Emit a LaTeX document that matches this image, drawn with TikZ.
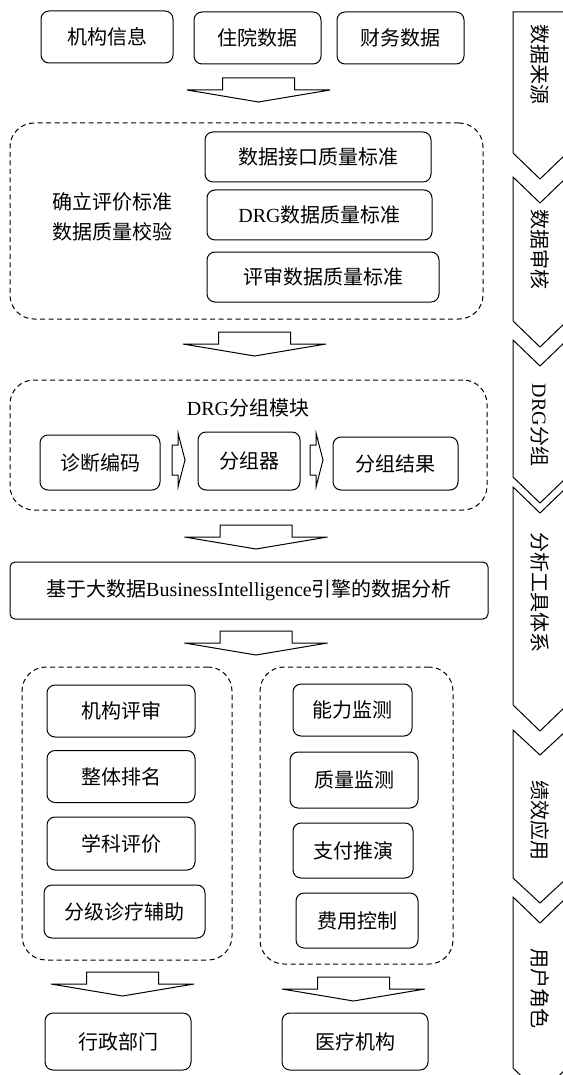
\documentclass[tikz,border=0pt]{standalone}
\usepackage{fontspec}
\setmainfont{Noto Sans CJK SC}
\newfontfamily\lat{Liberation Serif}
\begin{document}
\begin{tikzpicture}[x=1pt,y=-1pt,
  every node/.style={font=\fontsize{20}{24}\selectfont},
  box/.style={draw,line width=1pt,rounded corners=8pt,inner sep=0pt},
  dbox/.style={draw,line width=1pt,rounded corners=24pt,dash pattern=on 5pt off 3.5pt,inner sep=0pt},
  bigarrow/.pic={\draw[line width=1pt,line join=miter] (-36,0) -- (36,0) -- (36,12) -- (71.5,12) -- (0,24) -- (-71.5,12) -- (-36,12) -- cycle;},
  smallarrow/.pic={\draw[line width=1pt] (0,-15) -- (6,-15) -- (6,-27) -- (13,0) -- (6,27) -- (6,15) -- (0,15) -- cycle;},
  lbl/.style={rotate=-90,font=\fontsize{20}{24}\selectfont}
]
\useasboundingbox (0,0) rectangle (562,1075);
\fill[white] (0,0) rectangle (562,1075);

% sources
\node[box,minimum width=132pt,minimum height=52pt] (n1) at (107,37) {机构信息};
\node[box,minimum width=127pt,minimum height=52pt] (n2) at (257.5,38) {住院数据};
\node[box,minimum width=127pt,minimum height=52pt] (n3) at (400.5,38) {财务数据};
\pic at (258.5,78) {bigarrow};

% audit
\node[dbox,minimum width=473pt,minimum height=196pt] (d1) at (246.5,221) {};
\node (t1) at (112,202) {确立评价标准};
\node (t2) at (112,232) {数据质量校验};
\node[box,minimum width=226pt,minimum height=50pt] (s1) at (318,157) {数据接口质量标准};
\node[box,minimum width=225pt,minimum height=50pt] (s2) at (319.5,215) {{\lat DRG}数据质量标准};
\node[box,minimum width=232pt,minimum height=50pt] (s3) at (323,277) {评审数据质量标准};
\pic at (254.5,332) {bigarrow};

% DRG grouping
\node[dbox,minimum width=477pt,minimum height=130pt] (d2) at (248.5,445) {};
\node (gt) at (248,408) {{\lat DRG}分组模块};
\node[box,minimum width=120pt,minimum height=55pt] (g1) at (100,462.5) {诊断编码};
\node[box,minimum width=102pt,minimum height=58pt] (g2) at (249,461) {分组器};
\node[box,minimum width=125pt,minimum height=53pt] (g3) at (395.5,463.5) {分组结果};
\pic at (172,460) {smallarrow};
\pic at (310,460) {smallarrow};
\pic at (256,525) {bigarrow};

% BI
\node[box,rounded corners=5pt,minimum width=478pt,minimum height=57pt] (bi) at (249,590.5) {基于大数据{\lat BusinessIntelligence}引擎的数据分析};
\pic at (256,631) {bigarrow};

% applications
\node[dbox,minimum width=210pt,minimum height=293pt] (dl) at (127,813.5) {};
\node[dbox,minimum width=193pt,minimum height=297pt] (dr) at (356.5,815.5) {};
\node[box,minimum width=148pt,minimum height=52pt] (a1) at (121,711) {机构评审};
\node[box,minimum width=148pt,minimum height=52pt] (a2) at (121,776.5) {整体排名};
\node[box,minimum width=148pt,minimum height=53pt] (a3) at (121,843.5) {学科评价};
\node[box,minimum width=161pt,minimum height=53pt] (a4) at (124.5,911.5) {分级诊疗辅助};
\node[box,minimum width=119pt,minimum height=52pt] (b1) at (352.5,710) {能力监测};
\node[box,minimum width=128pt,minimum height=56pt] (b2) at (354,780) {质量监测};
\node[box,minimum width=120pt,minimum height=55pt] (b3) at (353,850.5) {支付推演};
\node[box,minimum width=122pt,minimum height=55pt] (b4) at (357,920.5) {费用控制};
\pic at (122.5,972) {bigarrow};
\pic at (353.5,977) {bigarrow};

% users
\node[box,minimum width=146pt,minimum height=57pt] (u1) at (118,1041.5) {行政部门};
\node[box,minimum width=146pt,minimum height=57pt] (u2) at (355,1041.5) {医疗机构};

% right chevrons
\begin{scope}[line width=1pt]
\draw (570,12) -- (513,12) -- (513,153) -- (540,179) -- (567,153);
\draw (567,177) -- (540,203) -- (513,177) -- (513,321) -- (540,347) -- (567,321);
\draw (567,340) -- (540,366) -- (513,340) -- (513,477) -- (540,503) -- (567,477);
\draw (567,487) -- (540,513) -- (513,487) -- (513,705) -- (540,731) -- (567,705);
\draw (567,730) -- (540,755) -- (513,730) -- (513,878) -- (540,903) -- (567,878);
\draw (567,897) -- (540,923) -- (513,897) -- (513,1068) -- (540,1094) -- (567,1068);
\end{scope}
\node[lbl] (r1) at (540,65) {数据来源};
\node[lbl] (r2) at (540,250) {数据审核};
\node[lbl] (r3) at (540,425) {{\lat DRG}分组};
\node[lbl] (r4) at (540,592) {分析工具体系};
\node[lbl] (r5) at (540,820) {绩效应用};
\node[lbl] (r6) at (540,988) {用户角色};
\end{tikzpicture}
\end{document}
